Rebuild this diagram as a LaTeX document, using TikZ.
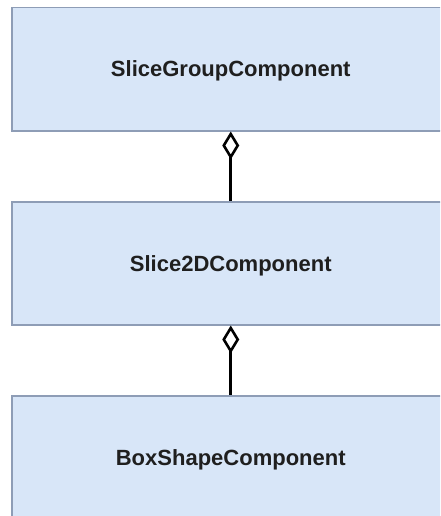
\documentclass[tikz,border=0pt]{standalone}
\usepackage{fontspec}
\setmainfont{Liberation Sans}
\usetikzlibrary{arrows.meta}
\definecolor{boxfill}{HTML}{D8E6F8}
\definecolor{boxline}{HTML}{8E9DB6}
\tikzset{
  classbox/.style={draw=boxline, line width=1.5pt, fill=boxfill,
    minimum width=438pt, minimum height=123pt, inner sep=0pt},
  classname/.style={font=\fontsize{22pt}{25pt}\selectfont\bfseries, text=black!88},
  aggregation/.style={draw=black, line width=3pt,
    -{Diamond[open, length=28pt, width=17pt, line width=2.6pt]}}
}
\begin{document}
\begin{tikzpicture}[x=1pt, y=-1pt]
  \useasboundingbox (0,0) rectangle (440,516);
  \clip (0,0) rectangle (440,516);
  \fill[white] (0,0) rectangle (440,516);
  % three stacked component classes
  \node[classbox, anchor=north west] (group) at (11,7) {};
  \node[classbox, anchor=north west] (slice) at (11,201) {};
  \node[classbox, anchor=north west] (shape) at (11,395) {};
  \node[classname] (groupname) at ([yshift=-1.5pt]group.center) {SliceGroupComponent};
  \node[classname] (slicename) at ([yshift=-2.5pt]slice.center) {Slice2DComponent};
  \node[classname] (shapename) at ([yshift=-3pt]shape.center) {BoxShapeComponent};
  % aggregation links
  \draw[aggregation] (slice.north) -- (group.south);
  \draw[aggregation] (shape.north) -- (slice.south);
\end{tikzpicture}
\end{document}
